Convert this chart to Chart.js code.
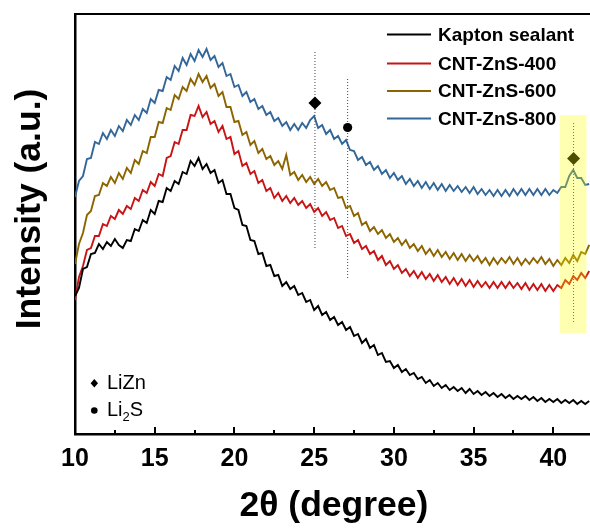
<!DOCTYPE html>
<html>
<head>
<meta charset="utf-8">
<script src="https://cdn.jsdelivr.net/npm/chart.js@4/dist/chart.umd.min.js"></script>
<style>
  html, body { margin: 0; padding: 0; background: #ffffff; }
  canvas { display: block; }
</style>
</head>
<body>
<canvas id="c" width="590" height="528"></canvas>
<script>
// ---- data ----
const twoTheta = [
  10,10.25,10.5,10.75,11,11.25,11.5,11.75,12,12.25,12.5,12.75,
  13,13.25,13.5,13.75,14,14.25,14.5,14.75,15,15.25,15.5,15.75,
  16,16.25,16.5,16.75,17,17.25,17.5,17.75,18,18.25,18.5,18.75,
  19,19.25,19.5,19.75,20,20.25,20.5,20.75,21,21.25,21.5,21.75,
  22,22.25,22.5,22.75,23,23.25,23.5,23.75,24,24.25,24.5,24.75,
  25,25.25,25.5,25.75,26,26.25,26.5,26.75,27,27.25,27.5,27.75,
  28,28.25,28.5,28.75,29,29.25,29.5,29.75,30,30.25,30.5,30.75,
  31,31.25,31.5,31.75,32,32.25,32.5,32.75,33,33.25,33.5,33.75,
  34,34.25,34.5,34.75,35,35.25,35.5,35.75,36,36.25,36.5,36.75,
  37,37.25,37.5,37.75,38,38.25,38.5,38.75,39,39.25,39.5,39.75,
  40,40.25,40.5,40.75,41,41.25,41.5,41.75,42,42.25
];
const kapton = [
  138,146,165,167,180,181,190,185,192,188,195,189,
  186,194,193,205,203,214,211,224,220,233,232,246,
  243,253,250,262,260,273,268,276,265,270,261,264,
  251,254,240,240,226,224,209,208,194,193,180,181,
  168,169,158,159,148,152,145,148,139,141,132,134,
  124,128,119,122,114,117,109,112,104,107,98,100,
  91,95,86,89,79,81,72,73,66,69,62,65,
  59,61,55,57,51,54,48,51,46,49,44,47,
  43,46,41,45,40,43,39,42,38,41,37,40,
  36,39,35,38,35,38,34,37,33,36,32,35,
  32,35,31,34,31,34,30,33,30,33
];
const zns400 = [
  134,157,168,184,186,198,198,210,208,218,215,224,
  220,228,225,236,233,244,241,252,248,260,258,276,
  278,292,290,304,304,319,318,328,317,322,310,313,
  302,308,295,297,280,283,268,271,260,263,251,254,
  243,246,236,241,233,238,231,236,229,233,226,230,
  222,226,218,222,214,216,206,208,198,200,191,194,
  185,188,180,183,174,178,169,173,165,169,161,165,
  158,163,156,162,155,160,153,159,152,157,150,156,
  149,155,148,154,147,153,147,152,146,152,146,152,
  146,152,146,151,145,151,144,150,144,150,143,149,
  143,149,146,154,150,158,154,161,156,163
];
const zns600 = [
  170,190,201,219,223,238,239,251,248,257,251,261,
  255,266,261,274,270,283,281,297,297,312,311,326,
  324,339,335,347,343,355,349,360,352,358,346,350,
  338,342,327,327,312,313,299,302,289,293,281,285,
  275,278,269,273,265,279,259,262,254,259,252,257,
  250,255,248,252,244,246,236,237,226,228,218,221,
  209,212,203,207,200,204,196,200,192,196,189,194,
  186,190,183,188,180,185,178,184,177,182,175,181,
  174,180,173,179,173,178,171,176,169,176,170,176,
  171,177,170,176,169,175,170,176,171,177,170,175,
  168,174,169,176,171,179,173,182,180,189
];
const zns800 = [
  237,253,258,275,276,292,290,301,295,304,298,308,
  303,314,309,319,314,325,321,335,331,344,343,357,
  354,368,363,376,369,380,373,384,377,385,374,378,
  367,371,358,360,347,349,338,342,332,335,325,328,
  319,322,313,316,308,312,304,310,304,311,306,314,
  318,306,309,300,304,295,298,290,294,284,283,274,
  277,269,272,264,268,260,264,256,261,254,258,250,
  255,248,253,246,252,245,251,244,250,243,249,243,
  248,242,247,241,247,240,245,239,244,238,244,238,
  244,238,245,239,245,239,245,239,245,239,245,239,
  244,241,247,247,258,264,256,256,249,250
];
const seriesNames = ["Kapton sealant", "CNT-ZnS-400", "CNT-ZnS-600", "CNT-ZnS-800"];
const xTickValues = [10, 15, 20, 25, 30, 35, 40];
// phase markers: [2theta, height]
const liznMarks = [[25.05, 331], [41.27, 275.5]];
const li2sMarks = [[27.1, 306.5]];
// dotted guide lines: [2theta, yFrom, yTo]
const guides = [[25.05, 186, 384], [27.1, 156, 355], [41.27, 112, 311]];
// highlighted window: [x0, x1, y0, y1]
const highlightBox = [40.4, 42.08, 101, 319];

const colors = ["#000000", "#c81414", "#8c6400", "#336699"];
const FONT = "'Liberation Sans', Arial, Helvetica, sans-serif";

function pts(ys) { return twoTheta.map((x, i) => ({ x: x, y: ys[i] })); }

const lineSets = [kapton, zns400, zns600, zns800].map((ys, i) => ({
  type: 'line',
  label: seriesNames[i],
  data: pts(ys),
  borderColor: colors[i],
  borderWidth: 1.9,
  pointRadius: 0,
  tension: 0,
  fill: false,
  order: 5
}));

const guideSets = guides.map(g => ({
  type: 'line',
  label: 'guide',
  data: [{ x: g[0], y: g[1] }, { x: g[0], y: g[2] }],
  borderColor: '#444444',
  borderWidth: 1,
  borderDash: [1, 2],
  pointRadius: 0,
  order: 4
}));

const markerSets = [
  {
    type: 'scatter', label: 'LiZn',
    data: liznMarks.map(m => ({ x: m[0], y: m[1] })),
    pointStyle: 'rectRot', pointRadius: 6.5, backgroundColor: '#000', borderColor: '#000', borderWidth: 0, order: 1
  },
  {
    type: 'scatter', label: 'Li2S',
    data: li2sMarks.map(m => ({ x: m[0], y: m[1] })),
    pointStyle: 'circle', pointRadius: 4.6, backgroundColor: '#000', borderColor: '#000', borderWidth: 0, order: 1
  }
];

const decor = {
  id: 'decor',
  afterDatasetsDraw(chart) {
    const ctx = chart.ctx, xs = chart.scales.x, ys = chart.scales.y;
    ctx.save();
    ctx.fillStyle = 'rgba(255,255,0,0.3)';
    const hx0 = xs.getPixelForValue(highlightBox[0]), hx1 = xs.getPixelForValue(highlightBox[1]);
    const hy0 = ys.getPixelForValue(highlightBox[3]), hy1 = ys.getPixelForValue(highlightBox[2]);
    ctx.fillRect(hx0, hy0, hx1 - hx0, hy1 - hy0);
    ctx.restore();
  },
  afterDraw(chart) {
    const ctx = chart.ctx, xs = chart.scales.x, a = chart.chartArea;
    ctx.save();
    // top frame line
    ctx.strokeStyle = '#000';
    ctx.lineWidth = 2;
    ctx.beginPath(); ctx.moveTo(a.left, a.top); ctx.lineTo(590, a.top); ctx.stroke();
    // inward ticks (major and minor)
    ctx.lineWidth = 2;
    for (let v = 12.5; v <= 42; v += 2.5) {
      const px = Math.round(xs.getPixelForValue(v));
      const len = (v % 5 === 0) ? 7 : 4;
      ctx.beginPath(); ctx.moveTo(px, a.bottom); ctx.lineTo(px, a.bottom - len); ctx.stroke();
    }
    // series legend (top right)
    const rows = [34.5, 63.5, 91, 118.5];
    ctx.font = 'bold 19px ' + FONT;
    ctx.textBaseline = 'middle';
    ctx.textAlign = 'left';
    seriesNames.forEach((name, i) => {
      ctx.strokeStyle = colors[i];
      ctx.lineWidth = 2;
      ctx.beginPath(); ctx.moveTo(387, rows[i]); ctx.lineTo(431, rows[i]); ctx.stroke();
      ctx.fillStyle = '#000';
      ctx.fillText(name, 438, rows[i] + 1);
    });
    // phase legend (bottom left)
    ctx.fillStyle = '#000';
    ctx.beginPath();
    ctx.moveTo(94.3, 379); ctx.lineTo(98, 383.3); ctx.lineTo(94.3, 387.6); ctx.lineTo(90.6, 383.3); ctx.closePath();
    ctx.fill();
    ctx.beginPath(); ctx.arc(94.3, 410.5, 3.3, 0, Math.PI * 2); ctx.fill();
    ctx.font = '20px ' + FONT;
    ctx.fillText('LiZn', 107, 383.5);
    ctx.fillText('Li', 107, 410.5);
    const wLi = ctx.measureText('Li').width;
    ctx.font = '13px ' + FONT;
    ctx.fillText('2', 107 + wLi, 417);
    const w2 = ctx.measureText('2').width;
    ctx.font = '20px ' + FONT;
    ctx.fillText('S', 107 + wLi + w2, 410.5);
    // axis titles
    ctx.font = 'bold 35.5px ' + FONT;
    ctx.textAlign = 'center';
    ctx.textBaseline = 'middle';
    ctx.fillText('2\u03B8 (degree)', 334, 506);
    ctx.translate(30, 209);
    ctx.rotate(-Math.PI / 2);
    ctx.fillText('Intensity (a.u.)', 0, 0);
    ctx.restore();
  }
};

new Chart(document.getElementById('c'), {
  data: { datasets: [...markerSets, ...guideSets, ...lineSets] },
  options: {
    responsive: false,
    animation: false,
    devicePixelRatio: 1,
    layout: { autoPadding: false, padding: { left: 0, right: 0, top: 14, bottom: 0 } },
    plugins: { legend: { display: false }, tooltip: { enabled: false }, title: { display: false } },
    scales: {
      x: {
        type: 'linear', min: 10, max: 42.3,
        afterBuildTicks: s => { s.ticks = xTickValues.map(v => ({ value: v })); },
        afterFit: s => { s.height = 94; s.paddingRight = 0; s.paddingLeft = 0; },
        ticks: { color: '#000', font: { family: FONT, size: 25, weight: 'bold' }, padding: 10, maxRotation: 0, autoSkip: false, includeBounds: false },
        grid: { display: false, drawTicks: false },
        border: { display: true, color: '#000', width: 2.5 }
      },
      y: {
        type: 'linear', min: 0, max: 420,
        afterFit: s => { s.width = 75; },
        ticks: { display: false },
        grid: { display: false, drawTicks: false },
        border: { display: true, color: '#000', width: 2.5 }
      }
    }
  },
  plugins: [decor]
});
</script>
</body>
</html>
